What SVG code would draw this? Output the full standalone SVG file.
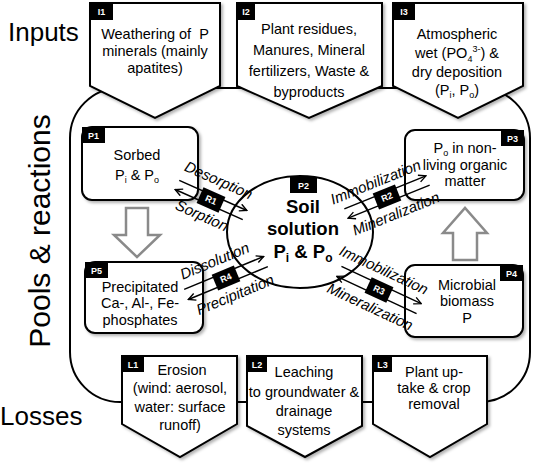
<svg xmlns="http://www.w3.org/2000/svg" width="535" height="463" viewBox="0 0 535 463">
<style>
.t{font-family:"Liberation Sans",Arial,sans-serif;font-size:14.5px;fill:#000;text-anchor:middle}
.big{font-family:"Liberation Sans",Arial,sans-serif;font-size:26px;fill:#000}
.lab{font-family:"Liberation Sans",Arial,sans-serif;font-size:9px;font-weight:bold;fill:#fff;text-anchor:middle}
.rx{font-family:"Liberation Sans",Arial,sans-serif;font-size:15px;font-style:italic;fill:#000;text-anchor:middle}
.sol{font-family:"Liberation Sans",Arial,sans-serif;font-size:18.5px;font-weight:bold;fill:#000;text-anchor:middle}
.box{fill:#fff;stroke:#000;stroke-width:2;filter:url(#sh)}
.tag{fill:#000}
.ln{stroke:#000;stroke-width:1.5;fill:none;marker-end:url(#arr)}
.hol{fill:#fff;stroke:#8a8a8a;stroke-width:2.5}
</style>
<defs>
<filter id="sh" x="-10%" y="-10%" width="130%" height="130%">
<feDropShadow dx="2" dy="2" stdDeviation="1.5" flood-color="#000" flood-opacity="0.3"/>
</filter>
<marker id="arr" viewBox="0 0 10 10" refX="9" refY="5" markerWidth="9" markerHeight="9" orient="auto" markerUnits="userSpaceOnUse">
<path d="M1,1 L9,5 L1,9" fill="none" stroke="#000" stroke-width="1.5"/>
</marker>
</defs>
<rect width="535" height="463" fill="#fff"/>
<text class="big" x="8" y="41">Inputs</text>
<text class="big" x="0" y="425">Losses</text>
<text class="big" style="font-size:30px" transform="translate(50,231) rotate(-90)" text-anchor="middle">Pools &amp; reactions</text>
<rect id="frame" x="70" y="88" width="460" height="314" rx="50" fill="none" stroke="#000" stroke-width="2"/>

<g id="I1">
<polygon class="box" points="90,3 220,3 220,86 155,118 90,86"/>
<rect class="tag" x="90" y="3" width="23" height="17"/><text class="lab" x="101.5" y="15">I1</text>
<text class="t" x="155" y="39" xml:space="preserve">Weathering of  P</text>
<text class="t" x="155" y="56">minerals (mainly</text>
<text class="t" x="155" y="73">apatites)</text>
</g>
<g id="I2">
<polygon class="box" points="237,3 382,3 382,86 309,118 237,86"/>
<rect class="tag" x="237" y="3" width="18" height="17"/><text class="lab" x="246" y="15">I2</text>
<text class="t" x="309" y="34">Plant residues,</text>
<text class="t" x="309" y="55">Manures, Mineral</text>
<text class="t" x="309" y="76">fertilizers, Waste &amp;</text>
<text class="t" x="309" y="97">byproducts</text>
</g>
<g id="I3">
<polygon class="box" points="393,3 523,3 523,86 458,118 393,86"/>
<rect class="tag" x="393" y="3" width="22" height="17"/><text class="lab" x="404" y="15">I3</text>
<text class="t" x="457" y="39">Atmospheric</text>
<text class="t" x="457" y="58">wet (PO<tspan dy="4" font-size="9">4</tspan><tspan dy="-10" font-size="9">3-</tspan><tspan dy="6">) &amp;</tspan></text>
<text class="t" x="457" y="77">dry deposition</text>
<text class="t" x="457" y="95">(P<tspan dy="3" font-size="9">i</tspan><tspan dy="-3">, P</tspan><tspan dy="3" font-size="9">o</tspan><tspan dy="-3">)</tspan></text>
</g>

<g id="L1">
<polygon class="box" points="122,356 237,356 237,424 180,457 122,424"/>
<rect class="tag" x="122" y="356" width="22" height="16"/><text class="lab" x="133" y="367.5">L1</text>
<text class="t" x="182" y="375">Erosion</text>
<text class="t" x="180" y="393">(wind: aerosol,</text>
<text class="t" x="180" y="412">water: surface</text>
<text class="t" x="180" y="430">runoff)</text>
</g>
<g id="L2">
<polygon class="box" points="247,356 362,356 362,426 305,457 247,426"/>
<rect class="tag" x="247" y="356" width="20" height="16"/><text class="lab" x="257" y="367.5">L2</text>
<text class="t" x="304" y="377">Leaching</text>
<text class="t" x="304" y="397">to groundwater &amp;</text>
<text class="t" x="304" y="416">drainage</text>
<text class="t" x="304" y="435">systems</text>
</g>
<g id="L3">
<polygon class="box" points="373,356 487,356 487,424 430,457 373,424"/>
<rect class="tag" x="373" y="356" width="19" height="16"/><text class="lab" x="382.5" y="367.5">L3</text>
<text class="t" x="434" y="377">Plant up-</text>
<text class="t" x="434" y="393">take &amp; crop</text>
<text class="t" x="434" y="409">removal</text>
</g>

<g id="P1">
<rect class="box" x="82" y="127" width="116" height="73" rx="10"/>
<rect class="tag" x="82" y="127" width="23" height="16"/><text class="lab" x="93.5" y="138.5">P1</text>
<text class="t" x="137" y="160">Sorbed</text>
<text class="t" x="137" y="180">P<tspan dy="3" font-size="9">i</tspan><tspan dy="-3"> &amp; P</tspan><tspan dy="3" font-size="9">o</tspan></text>
</g>
<g id="P3">
<rect class="box" x="405" y="130" width="119" height="70" rx="10"/>
<rect class="tag" x="501" y="130" width="23" height="16"/><text class="lab" x="512.5" y="141.5">P3</text>
<text class="t" x="465" y="153">P<tspan dy="3" font-size="9">o</tspan><tspan dy="-3"> in non-</tspan></text>
<text class="t" x="465" y="170">living organic</text>
<text class="t" x="465" y="186">matter</text>
</g>
<g id="P4">
<rect class="box" x="405" y="265" width="118" height="72" rx="10"/>
<rect class="tag" x="500" y="265" width="23" height="16"/><text class="lab" x="511.5" y="276.5">P4</text>
<text class="t" x="467" y="290">Microbial</text>
<text class="t" x="467" y="306">biomass</text>
<text class="t" x="467" y="323">P</text>
</g>
<g id="P5">
<rect class="box" x="85" y="262" width="118" height="71" rx="10"/>
<rect class="tag" x="85" y="262" width="23" height="16"/><text class="lab" x="96.5" y="273.5">P5</text>
<text class="t" x="140" y="292">Precipitated</text>
<text class="t" x="140" y="308">Ca-, Al-, Fe-</text>
<text class="t" x="140" y="325">phosphates</text>
</g>
<g id="P2">
<ellipse cx="300" cy="232" rx="73" ry="56" fill="#fff" stroke="#000" stroke-width="2"/>
<rect class="tag" x="290" y="177" width="27" height="16"/><text class="lab" x="303.5" y="188.5">P2</text>
<text class="sol" x="303" y="213">Soil</text>
<text class="sol" x="303" y="235">solution</text>
<text class="sol" x="303" y="258">P<tspan dy="4" font-size="12">i</tspan><tspan dy="-4"> &amp; P</tspan><tspan dy="4" font-size="12">o</tspan></text>
</g>

<g id="connectors">
<polygon class="hol" points="126,208 148,208 148,235 160,235 137,257 114,235 126,235"/>
<polygon class="hol" points="453,260 477,260 477,233 487,233 465,208 443,233 453,233"/>
<g id="R1" transform="translate(211,200) rotate(24)">
<line class="ln" x1="-37" y1="-5" x2="37" y2="-5"/>
<line class="ln" x1="37" y1="5" x2="-37" y2="5"/>
<rect class="tag" x="-12" y="-8.5" width="24" height="17"/><text class="lab" x="0" y="3">R1</text>
<text class="rx" x="-1" y="-16">Desorption</text>
<text class="rx" x="-2" y="23">Sorption</text>
</g>
<g id="R2" transform="translate(387,197) rotate(-22)">
<line class="ln" x1="-44" y1="-5" x2="44" y2="-5"/>
<line class="ln" x1="44" y1="5" x2="-44" y2="5"/>
<rect class="tag" x="-12" y="-8.5" width="24" height="17"/><text class="lab" x="0" y="3">R2</text>
<text class="rx" x="-5" y="-13">Immobilization</text>
<text class="rx" x="2" y="24">Mineralization</text>
</g>
<g id="R3" transform="translate(379,290) rotate(25)">
<line class="ln" x1="-44" y1="-5.5" x2="44" y2="-5.5"/>
<line class="ln" x1="44" y1="5.5" x2="-44" y2="5.5"/>
<rect class="tag" x="-12" y="-8.5" width="24" height="17"/><text class="lab" x="0" y="3">R3</text>
<text class="rx" x="-4" y="-15">Immobilization</text>
<text class="rx" x="-1" y="24">Mineralization</text>
</g>
<g id="R4" transform="translate(226,278) rotate(-22.5)">
<line class="ln" x1="-43" y1="-5.5" x2="43" y2="-5.5"/>
<line class="ln" x1="43" y1="5.5" x2="-43" y2="5.5"/>
<rect class="tag" x="-12" y="-8.5" width="24" height="17"/><text class="lab" x="0" y="3">R4</text>
<text class="rx" x="-4" y="-15">Dissolution</text>
<text class="rx" x="2" y="24">Precipitation</text>
</g>
</g>
</svg>
